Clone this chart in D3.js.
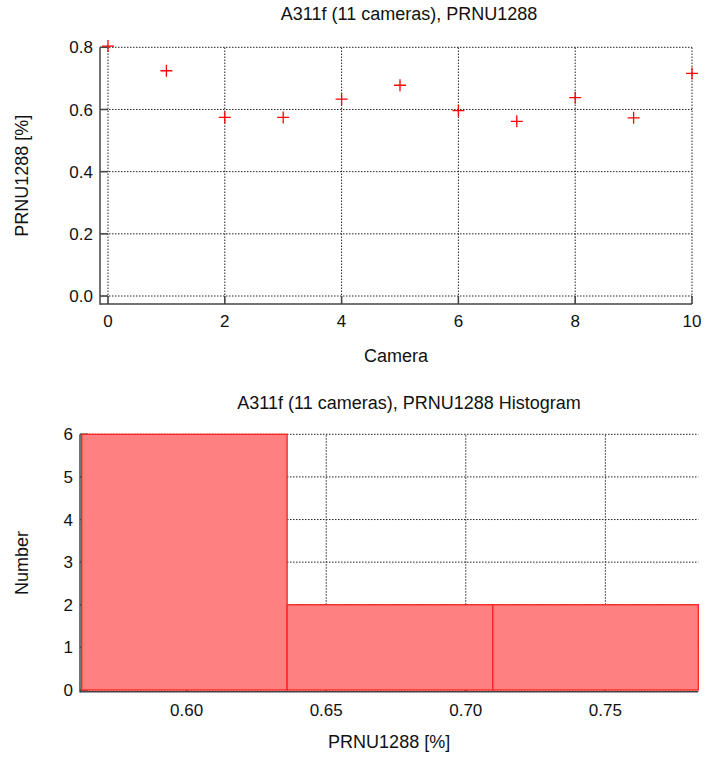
<!DOCTYPE html>
<html><head><meta charset="utf-8">
<script src="https://cdn.jsdelivr.net/npm/d3@7"></script>
<style>
html,body{margin:0;padding:0;background:#fff;}
svg{display:block;font-family:"Liberation Sans",Arial,sans-serif;}
</style></head>
<body>
<svg id="c" width="706" height="763"></svg>
<script>
// ---- data ----
const cameras = [0,1,2,3,4,5,6,7,8,9,10];
const prnu = [0.804,0.7245,0.5745,0.5745,0.633,0.678,0.596,0.562,0.638,0.573,0.716];
const xTicksTop = [0,2,4,6,8,10];
const yTicksTop = [0.0,0.2,0.4,0.6,0.8];
const binStarts = [0.5624,0.6360,0.7097];
const binEnds = [0.6360,0.7097,0.7833];
const binCounts = [6,2,2];
const xTicksHist = [0.60,0.65,0.70,0.75];
const yTicksHist = [0,1,2,3,4,5,6];
const title1 = "A311f (11 cameras), PRNU1288";
const title2 = "A311f (11 cameras), PRNU1288 Histogram";

const svg = d3.select("#c");
const tickCol = "#444", gridCol = "#222";
const fs = 17;

function grid(g, xs, ys, xT, yT){
  g.selectAll(".gv").data(xT).join("line")
    .attr("x1",d=>xs(d)).attr("x2",d=>xs(d))
    .attr("y1",ys.range()[0]).attr("y2",ys.range()[1])
    .attr("stroke",gridCol).attr("stroke-width",1).attr("stroke-dasharray","1.5,1.5");
  g.selectAll(".gh").data(yT).join("line")
    .attr("y1",d=>ys(d)).attr("y2",d=>ys(d))
    .attr("x1",xs.range()[0]).attr("x2",xs.range()[1])
    .attr("stroke",gridCol).attr("stroke-width",1).attr("stroke-dasharray","1.5,1.5");
}
function axes(g, xs, ys, xT, yT){
  const x0 = xs.range()[0], y0 = ys.range()[0];
  g.selectAll(".tx").data(xT).join("line")
    .attr("x1",d=>xs(d)).attr("x2",d=>xs(d)).attr("y1",y0).attr("y2",y0-8)
    .attr("stroke",tickCol).attr("stroke-width",1.5);
  g.selectAll(".ty").data(yT).join("line")
    .attr("y1",d=>ys(d)).attr("y2",d=>ys(d)).attr("x1",x0).attr("x2",x0+8)
    .attr("stroke",tickCol).attr("stroke-width",1.5);
}
function axisLines(g, xs, ys){
  const x0 = xs.range()[0], x1 = xs.range()[1], y0 = ys.range()[0], y1 = ys.range()[1];
  g.append("line").attr("x1",x0).attr("x2",x0).attr("y1",y1).attr("y2",y0+0.75)
    .attr("stroke",tickCol).attr("stroke-width",1.5);
  g.append("line").attr("x1",x0).attr("x2",x1).attr("y1",y0).attr("y2",y0)
    .attr("stroke",tickCol).attr("stroke-width",1.5);
}
function labels(g, xs, ys, xT, yT, xfmt, yfmt, xBase){
  const x0 = xs.range()[0];
  g.selectAll(".lx").data(xT).join("text")
    .attr("x",d=>xs(d)).attr("y",xBase).attr("text-anchor","middle")
    .attr("font-size",fs).attr("fill","#111").text(xfmt);
  g.selectAll(".ly").data(yT).join("text")
    .attr("x",x0-7).attr("y",d=>ys(d)).attr("dy","0.36em").attr("text-anchor","end")
    .attr("font-size",fs).attr("fill","#111").text(yfmt);
}

// ---- top scatter ----
const xs1 = d3.scaleLinear().domain([-0.137,10]).range([100,692]);
const ys1 = d3.scaleLinear().domain([-0.0257,0.8]).range([304,47.3]);
const g1 = svg.append("g");
grid(g1, xs1, ys1, xTicksTop, yTicksTop);
axes(g1, xs1, ys1, xTicksTop, yTicksTop);
axisLines(g1, xs1, ys1);
labels(g1, xs1, ys1, xTicksTop, yTicksTop, d=>d3.format("d")(d), d=>d3.format(".1f")(d), 327);
g1.selectAll(".pt").data(cameras).join("path")
  .attr("d",(d,i)=>{const x=xs1(d), y=ys1(prnu[i]); return `M${x-6},${y}H${x+6}M${x},${y-6}V${y+6}`;})
  .attr("stroke","#ff0000").attr("stroke-width",1.3).attr("fill","none");
svg.append("text").attr("x",409).attr("y",20).attr("text-anchor","middle")
  .attr("font-size",18).attr("fill","#111").text(title1);
svg.append("text").attr("x",(xs1.range()[0]+xs1.range()[1])/2).attr("y",362).attr("text-anchor","middle")
  .attr("font-size",18).attr("fill","#111").text("Camera");
svg.append("text").attr("transform",`translate(28,${(ys1.range()[0]+ys1.range()[1])/2}) rotate(-90)`)
  .attr("text-anchor","middle").attr("font-size",18).attr("fill","#111").text("PRNU1288 [%]");

// ---- histogram ----
const xs2 = d3.scaleLinear().domain([0.5618,0.7833]).range([80,698.3]);
const ys2 = d3.scaleLinear().domain([-0.04,6]).range([691.7,434.3]);
const g2 = svg.append("g");
grid(g2, xs2, ys2, xTicksHist, yTicksHist);
axes(g2, xs2, ys2, xTicksHist, yTicksHist);
g2.selectAll(".bar").data(binCounts).join("rect")
  .attr("x",(d,i)=>xs2(binStarts[i])).attr("width",(d,i)=>xs2(binEnds[i])-xs2(binStarts[i]))
  .attr("y",d=>ys2(d)).attr("height",d=>ys2(0)-ys2(d))
  .attr("fill","#ff8080").attr("stroke","#ff2020").attr("stroke-width",1.3);
axisLines(g2, xs2, ys2);
labels(g2, xs2, ys2, xTicksHist, yTicksHist, d=>d3.format(".2f")(d), d=>d3.format("d")(d), 716);
svg.append("text").attr("x",409).attr("y",409).attr("text-anchor","middle")
  .attr("font-size",18).attr("fill","#111").text(title2);
svg.append("text").attr("x",(xs2.range()[0]+xs2.range()[1])/2).attr("y",748).attr("text-anchor","middle")
  .attr("font-size",18).attr("fill","#111").text("PRNU1288 [%]");
svg.append("text").attr("transform",`translate(28,${(ys2.range()[0]+ys2.range()[1])/2}) rotate(-90)`)
  .attr("text-anchor","middle").attr("font-size",18).attr("fill","#111").text("Number");
</script>
</body></html>
